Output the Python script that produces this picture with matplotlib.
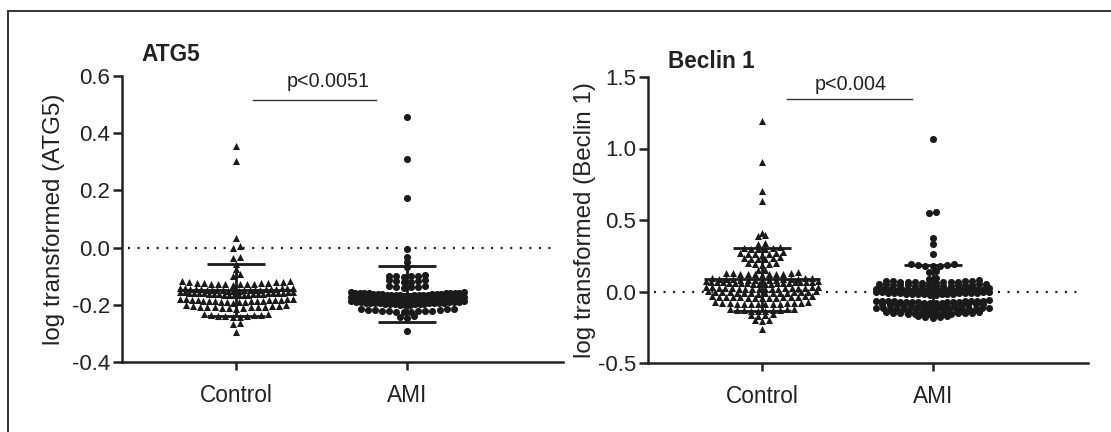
import numpy as np
import matplotlib
matplotlib.use("Agg")
import matplotlib.pyplot as plt
from matplotlib.patches import Rectangle

plt.rcParams['font.family'] = ['Liberation Sans', 'DejaVu Sans']
plt.rcParams['axes.unicode_minus'] = False

groups = ["Control", "AMI"]

# ATG5, log transformed values
atg5_control = [
    0.355, 0.302, 0.035, 0.004, -0.003, -0.034, -0.038, -0.058, -0.076, -0.094, -0.098,
    -0.130, -0.129, -0.129, -0.128, -0.127, -0.127, -0.126, -0.125, -0.124, -0.124,
    -0.123, -0.122, -0.121, -0.120, -0.118, -0.118,
    -0.152, -0.151, -0.151, -0.150, -0.150, -0.149, -0.149, -0.148, -0.148, -0.147, -0.147,
    -0.146, -0.146, -0.145, -0.145, -0.144, -0.144, -0.143, -0.143, -0.142, -0.142, -0.141,
    -0.166, -0.166, -0.165, -0.165, -0.164, -0.164, -0.163, -0.163, -0.162, -0.162, -0.161, -0.161,
    -0.160, -0.160, -0.159, -0.159, -0.158, -0.158, -0.157, -0.157, -0.156, -0.156, -0.155, -0.155,
    -0.192, -0.191, -0.190, -0.190, -0.189, -0.188, -0.188, -0.187, -0.186, -0.186,
    -0.185, -0.184, -0.184, -0.183, -0.182, -0.182, -0.181, -0.181, -0.180, -0.180,
    -0.213, -0.212, -0.211, -0.210, -0.209, -0.209, -0.208, -0.207, -0.207, -0.206,
    -0.205, -0.204, -0.203, -0.202, -0.201,
    -0.242, -0.241, -0.240, -0.239, -0.238, -0.236, -0.235, -0.234, -0.233, -0.231,
    -0.266, -0.262, -0.294,
]
atg5_ami = [
    0.456, 0.309, 0.175, -0.006, -0.034, -0.049, -0.067,
    -0.103, -0.101, -0.100, -0.099, -0.098, -0.096,
    -0.120, -0.119, -0.118, -0.117, -0.115, -0.113,
    -0.140, -0.139, -0.138, -0.137, -0.136, -0.135,
    -0.168, -0.168, -0.167, -0.167, -0.166, -0.166, -0.165, -0.165, -0.164, -0.164, -0.163, -0.163, -0.162,
    -0.162, -0.161, -0.161, -0.160, -0.160, -0.159, -0.159, -0.158, -0.158, -0.157, -0.157, -0.156, -0.156,
    -0.184, -0.184, -0.183, -0.183, -0.182, -0.182, -0.181, -0.181, -0.180, -0.180, -0.179, -0.179,
    -0.178, -0.178, -0.177, -0.177, -0.176, -0.176, -0.175, -0.175, -0.174, -0.174, -0.173, -0.172,
    -0.200, -0.199, -0.199, -0.198, -0.198, -0.197, -0.197, -0.196, -0.196, -0.195, -0.195, -0.194,
    -0.194, -0.193, -0.193, -0.192, -0.192, -0.191, -0.191, -0.190, -0.190, -0.189, -0.188, -0.188,
    -0.226, -0.225, -0.224, -0.223, -0.222, -0.221, -0.221, -0.220, -0.219, -0.218, -0.217, -0.216,
    -0.215, -0.214,
    -0.245, -0.242, -0.240, -0.292,
]

# Beclin 1, log transformed values
beclin_control = [
    1.190, 0.905, 0.705, 0.632, 0.411, 0.388, 0.392, 0.335, 0.340,
    0.296, 0.298, 0.300, 0.303, 0.306, 0.310,
    0.258, 0.260, 0.262, 0.265, 0.267, 0.270, 0.274,
    0.225, 0.227, 0.229, 0.232, 0.235, 0.238,
    0.188, 0.190, 0.193, 0.196, 0.200, 0.148, 0.152,
    0.118, 0.119, 0.120, 0.121, 0.122, 0.123, 0.124, 0.126, 0.128, 0.130, 0.133,
    0.078, 0.079, 0.080, 0.081, 0.082, 0.083, 0.084, 0.085, 0.086, 0.087, 0.088, 0.090, 0.092, 0.094, 0.096,
    0.052, 0.053, 0.054, 0.055, 0.056, 0.057, 0.058, 0.059, 0.060, 0.061,
    0.062, 0.063, 0.064, 0.065, 0.066, 0.067, 0.068, 0.069, 0.070, 0.071,
    0.014, 0.015, 0.016, 0.017, 0.018, 0.019, 0.020, 0.021, 0.022,
    0.023, 0.024, 0.025, 0.026, 0.027, 0.028, 0.030, 0.031, 0.033,
    -0.014, -0.013, -0.012, -0.011, -0.010, -0.009, -0.008, -0.007,
    -0.006, -0.005, -0.004, -0.003, -0.002, 0.000, 0.002, 0.004,
    -0.046, -0.045, -0.044, -0.043, -0.042, -0.041, -0.040, -0.039,
    -0.038, -0.037, -0.036, -0.035, -0.033, -0.031, -0.028,
    -0.090, -0.089, -0.088, -0.087, -0.086, -0.085, -0.084,
    -0.083, -0.082, -0.081, -0.080, -0.078, -0.076, -0.073,
    -0.138, -0.136, -0.134, -0.132, -0.131, -0.129, -0.127, -0.125, -0.122, -0.120,
    -0.170, -0.166, -0.162, -0.158, -0.205, -0.200, -0.196, -0.264,
]
beclin_ami = [
    1.068, 0.548, 0.553, 0.374, 0.332, 0.262,
    0.176, 0.178, 0.180, 0.183, 0.186, 0.190, 0.194,
    0.135, 0.142, 0.088, 0.094,
    0.060, 0.061, 0.062, 0.063, 0.064, 0.065, 0.066, 0.068, 0.069, 0.070, 0.072, 0.074, 0.076, 0.078,
    0.036, 0.037, 0.038, 0.039, 0.040, 0.041, 0.042, 0.043,
    0.044, 0.045, 0.046, 0.047, 0.049, 0.050, 0.052, 0.054,
    0.002, 0.003, 0.004, 0.005, 0.006, 0.007, 0.008, 0.009, 0.010, 0.011, 0.011,
    0.012, 0.013, 0.014, 0.015, 0.016, 0.017, 0.017, 0.018, 0.019, 0.020, 0.021,
    -0.022, -0.021, -0.020, -0.019, -0.018, -0.017, -0.016, -0.015, -0.014, -0.013,
    -0.012, -0.011, -0.010, -0.009, -0.008, -0.007, -0.006, -0.005, -0.004, -0.003,
    -0.080, -0.079, -0.078, -0.077, -0.076, -0.075, -0.074, -0.073, -0.072, -0.071,
    -0.070, -0.069, -0.068, -0.067, -0.066, -0.065, -0.064, -0.064, -0.063, -0.062,
    -0.104, -0.103, -0.102, -0.101, -0.100, -0.099, -0.098, -0.097,
    -0.096, -0.095, -0.094, -0.092, -0.090, -0.088, -0.086,
    -0.132, -0.131, -0.130, -0.129, -0.128, -0.127, -0.126, -0.125, -0.124,
    -0.123, -0.122, -0.121, -0.120, -0.119, -0.118, -0.117, -0.116, -0.114,
    -0.160, -0.159, -0.158, -0.157, -0.156, -0.155, -0.154,
    -0.153, -0.152, -0.151, -0.150, -0.148, -0.146, -0.143,
    -0.182, -0.179, -0.176, -0.172, -0.168,
]

# mean and SD lines as drawn in the figure
atg5_mean = [-0.149, -0.163]
atg5_sd = [0.091, 0.097]
beclin_mean = [0.086, 0.016]
beclin_sd = [0.220, 0.168]

panels = [
    dict(title="ATG5", ylabel="log transformed (ATG5)", data=[atg5_control, atg5_ami],
         mean=atg5_mean, sd=atg5_sd, ylim=(-0.4, 0.6), ticks=[-0.4, -0.2, 0.0, 0.2, 0.4, 0.6],
         row_h=0.013, pos=[122, 76, 441, 286], title_y=1.052,
         ptext="p<0.0051", bar=(0.10, 0.82, 0.516), text_xy=(0.54, 0.562), label_x=-0.129),
    dict(title="Beclin 1", ylabel="log transformed (Beclin 1)", data=[beclin_control, beclin_ami],
         mean=beclin_mean, sd=beclin_sd, ylim=(-0.5, 1.5), ticks=[-0.5, 0.0, 0.5, 1.0, 1.5],
         row_h=0.02, pos=[648, 77, 440, 286], title_y=1.031,
         ptext="p<0.004", bar=(0.15, 0.88, 1.346), text_xy=(0.52, 1.409), label_x=-0.118),
]

markers = ['^', 'o']
ink = '#1a1a1a'
W, H = 1111, 432


def swarm_offsets(vals, h, dmax=0.042, wmax=0.66):
    # GraphPad-like rows: close values share a row, lowest ones in the middle
    vals = np.asarray(vals, dtype=float)
    order = np.argsort(vals, kind='stable')
    v = vals[order]
    off = np.zeros(len(v))
    i = 0
    while i < len(v):
        j = i
        while j < len(v) and v[j] < v[i] + h - 1e-9:
            j += 1
        m = j - i
        d = dmax if m < 2 else min(dmax, wmax / (m - 1))
        slots = (np.arange(m) - (m - 1) / 2) * d
        off[i:j] = slots[np.argsort(np.abs(slots), kind='stable')]
        i = j
    out = np.zeros(len(v))
    out[order] = off
    return out


fig = plt.figure(figsize=(W / 100, H / 100), dpi=100)
fig.patches.append(Rectangle((8 / W, -0.02), 1.05, 1 - 11 / H + 0.02, transform=fig.transFigure,
                             fill=False, lw=1.4, edgecolor='#333333'))

for p in panels:
    l, t, w, h = p['pos']
    ax = fig.add_axes([l / W, 1 - (t + h) / H, w / W, h / H])
    ax.set_xlim(-0.667, 1.91)
    ax.set_ylim(*p['ylim'])

    ax.axhline(0, xmin=0.014, xmax=0.986, color=ink, lw=1.6, ls=(0, (0.9, 3.4)), zorder=1)

    for k, vals in enumerate(p['data']):
        xs = k + swarm_offsets(vals, p['row_h'])
        ax.scatter(xs, vals, marker=markers[k], s=26, color=ink, linewidths=0, zorder=2)

        m, s = p['mean'][k], p['sd'][k]
        kw = dict(color=ink, lw=2.0, solid_capstyle='butt', zorder=3)
        ax.plot([k - 0.34, k + 0.34], [m, m], **kw)
        ax.plot([k, k], [m - s, m + s], **kw)
        ax.plot([k - 0.17, k + 0.17], [m + s, m + s], **kw)
        ax.plot([k - 0.17, k + 0.17], [m - s, m - s], **kw)

    x1, x2, yb = p['bar']
    ax.plot([x1, x2], [yb, yb], color='#333333', lw=1.0)
    ax.text(*p['text_xy'], p['ptext'], ha='center', va='baseline', fontsize=14.2, color='#222222')

    ax.text(0.045, p['title_y'], p['title'], transform=ax.transAxes, fontsize=16.3,
            fontweight='bold', va='baseline', ha='left', color='#222222')

    for side in ['top', 'right']:
        ax.spines[side].set_visible(False)
    for side in ['left', 'bottom']:
        ax.spines[side].set_linewidth(1.8)
        ax.spines[side].set_color('#222222')

    ax.set_xticks([0, 1])
    ax.set_xticklabels(groups, fontsize=16.3, color='#222222')
    ax.set_yticks(p['ticks'])
    ax.set_yticklabels(['%.1f' % v for v in p['ticks']], fontsize=16, color='#222222')
    ax.tick_params(axis='x', length=6, width=1.8, pad=10, color='#222222')
    ax.tick_params(axis='y', length=6.5, width=1.8, pad=2, color='#222222')

    ax.set_ylabel(p['ylabel'], fontsize=17.4, color='#222222')
    ax.yaxis.set_label_coords(p['label_x'], 0.5)

fig.savefig('out.png', dpi=100)
